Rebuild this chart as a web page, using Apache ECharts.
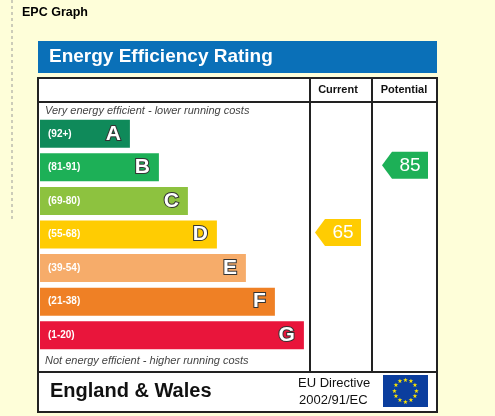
<!DOCTYPE html>
<html><head><meta charset="utf-8">
<script src="https://cdn.jsdelivr.net/npm/echarts@6/dist/echarts.min.js"></script>
<style>html,body{margin:0;padding:0;background:#fefed9}#c{width:495px;height:416px}</style>
</head><body><div id="c"></div>
<script>
var bands = ['A','B','C','D','E','F','G'];
var ranges = ['(92+)','(81-91)','(69-80)','(55-68)','(39-54)','(21-38)','(1-20)'];
var barLengths = [31,41,51,61,71,81,91];
var colors = ['#0f8a5a','#1db057','#8dc23f','#ffcc02','#f6ac6a','#ef8025','#e9153b'];
var currentRating = {value:65, band:'D'};
var potentialRating = {value:85, band:'B'};

var chart = echarts.init(document.getElementById('c'));
function arrowSeries(gridIdx, r, color){
  return {type:'custom', xAxisIndex:gridIdx, yAxisIndex:gridIdx, data:[[0.5, r.band, r.value]],
    renderItem:function(params, api){
      var p = api.coord([api.value(0), api.value(1)]);
      var w=46,h=27,t=10, x0=p[0]-w/2, y0=p[1]-h/2 - 2;
      return {type:'group', children:[
        {type:'polygon', shape:{points:[[x0,y0+h/2],[x0+t,y0],[x0+w,y0],[x0+w,y0+h],[x0+t,y0+h]]}, style:{fill:color}},
        {type:'text', style:{text:String(api.value(2)), x:x0+t+(w-t)/2, y:y0+h/2, align:'center', verticalAlign:'middle', fill:'#fff', font:'19px Arial, Liberation Sans, sans-serif'}}
      ]};
    }};
}
var stars=[];
for(var i=0;i<12;i++){var a=i*Math.PI/6;
  stars.push({type:'text', style:{text:'★', x:405.5+11*Math.cos(a), y:391+11*Math.sin(a), align:'center', verticalAlign:'middle', fill:'#ffe600', font:'6px DejaVu Sans'}});}
chart.setOption({
  backgroundColor:'#fefed9', animation:false,
  grid:[{left:40,top:117,width:290,height:235},{left:307,top:117,width:62,height:235},{left:373,top:117,width:64,height:235}],
  xAxis:[{type:'value',min:0,max:100,show:false,gridIndex:0},{type:'value',min:0,max:1,show:false,gridIndex:1},{type:'value',min:0,max:1,show:false,gridIndex:2}],
  yAxis:[0,1,2].map(function(g){return {type:'category',data:bands,inverse:true,show:false,gridIndex:g};}),
  graphic:[
    {type:'line',shape:{x1:12,y1:0,x2:12,y2:222},style:{stroke:'#999',lineDash:[3,3],lineWidth:1}},
    {type:'text',style:{text:'EPC Graph',x:22,y:6,font:'bold 12.5px Arial, Liberation Sans, sans-serif',fill:'#000'}},
    {type:'rect',shape:{x:38,y:41,width:399,height:32},style:{fill:'#0a70b8'}},
    {type:'text',style:{text:'Energy Efficiency Rating',x:49,y:57,verticalAlign:'middle',font:'bold 19px Arial, Liberation Sans, sans-serif',fill:'#fff'}},
    {type:'rect',z:-1,shape:{x:38,y:78,width:399,height:334},style:{fill:'#fff',stroke:'#222',lineWidth:2}},
    {type:'line',shape:{x1:310,y1:78,x2:310,y2:372},style:{stroke:'#222',lineWidth:2}},
    {type:'line',shape:{x1:372,y1:78,x2:372,y2:372},style:{stroke:'#222',lineWidth:2}},
    {type:'line',shape:{x1:38,y1:102,x2:437,y2:102},style:{stroke:'#222',lineWidth:2}},
    {type:'line',shape:{x1:38,y1:372,x2:437,y2:372},style:{stroke:'#222',lineWidth:2}},
    {type:'text',style:{text:'Current',x:338,y:90,align:'center',verticalAlign:'middle',font:'bold 11px Arial, Liberation Sans, sans-serif',fill:'#111'}},
    {type:'text',style:{text:'Potential',x:404,y:90,align:'center',verticalAlign:'middle',font:'bold 11px Arial, Liberation Sans, sans-serif',fill:'#111'}},
    {type:'text',style:{text:'Very energy efficient - lower running costs',x:45,y:111,verticalAlign:'middle',font:'italic 11px Arial, Liberation Sans, sans-serif',fill:'#444'}},
    {type:'text',style:{text:'Not energy efficient - higher running costs',x:45,y:361,verticalAlign:'middle',font:'italic 11px Arial, Liberation Sans, sans-serif',fill:'#444'}},
    {type:'text',style:{text:'England & Wales',x:50,y:391,verticalAlign:'middle',font:'bold 20px Arial, Liberation Sans, sans-serif',fill:'#111'}},
    {type:'text',style:{text:'EU Directive',x:298,y:383,verticalAlign:'middle',font:'13px Arial, Liberation Sans, sans-serif',fill:'#111'}},
    {type:'text',style:{text:'2002/91/EC',x:299,y:400,verticalAlign:'middle',font:'13px Arial, Liberation Sans, sans-serif',fill:'#111'}},
    {type:'rect',shape:{x:383,y:375,width:45,height:32},style:{fill:'#0b3e9e'}}
  ].concat(stars),
  series:[
    {type:'bar',data:barLengths.map(function(v,i){return {value:v,itemStyle:{color:colors[i]}};}),barWidth:28,
      label:{show:true,position:'insideLeft',offset:[3,0],formatter:function(p){return ranges[p.dataIndex];},color:'#fff',fontWeight:'bold',fontSize:10,fontFamily:'Arial, Liberation Sans, sans-serif'}},
    {type:'bar',data:barLengths,barWidth:28,barGap:'-100%',itemStyle:{color:'transparent'},
      label:{show:true,position:'insideRight',offset:[-4,0],formatter:function(p){return bands[p.dataIndex];},color:'#fff',fontWeight:'bold',fontSize:21,textBorderColor:'#333',textBorderWidth:2,fontFamily:'Arial, Liberation Sans, sans-serif'}},
    arrowSeries(1,currentRating,'#ffcc02'),
    arrowSeries(2,potentialRating,'#1db057')
  ]
});
</script></body></html>
